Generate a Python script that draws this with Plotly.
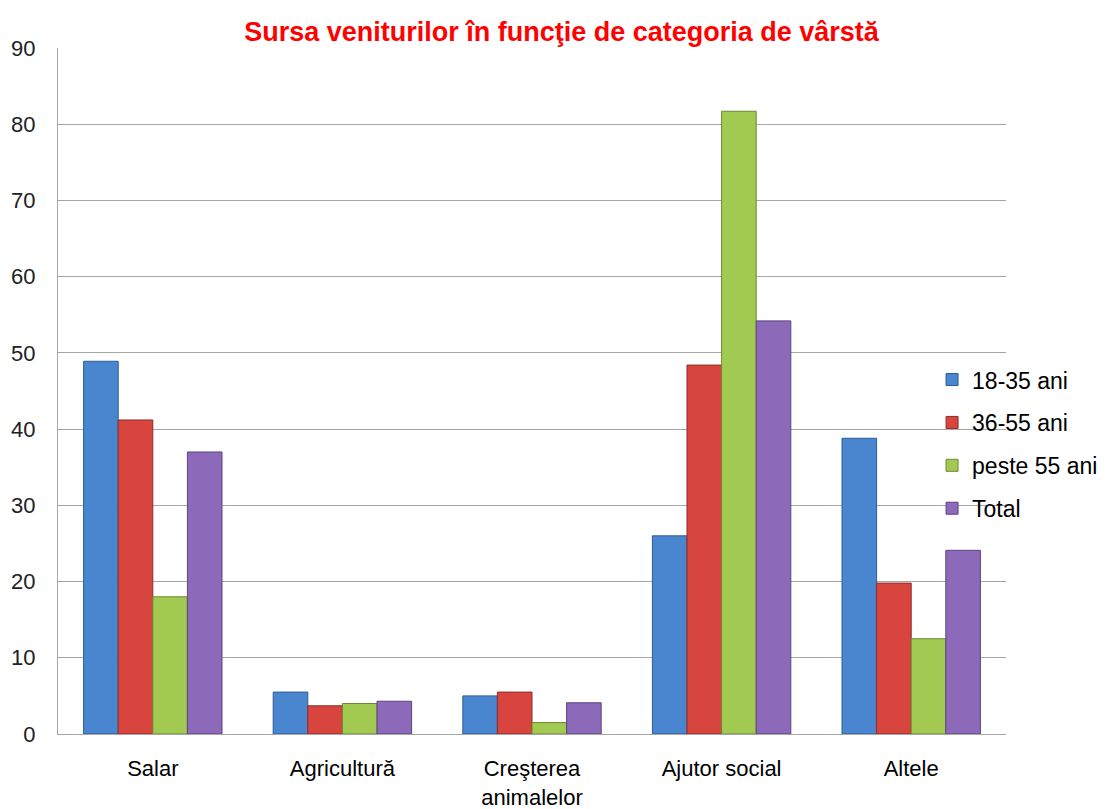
import plotly.graph_objects as go

categories = ["Salar", "Agricultură", "Creşterea<br>animalelor", "Ajutor social", "Altele"]
series_names = ["18-35 ani", "36-55 ani", "peste 55 ani", "Total"]
v_18_35 = [48.9, 5.5, 5.0, 26.0, 38.8]
v_36_55 = [41.2, 3.7, 5.5, 48.4, 19.8]
v_peste55 = [18.0, 4.0, 1.5, 81.7, 12.5]
v_total = [37.0, 4.3, 4.1, 54.2, 24.1]
colors = ["#4A86D0", "#D8453F", "#A2C951", "#8C69B9"]
edges = ["#2E5C91", "#8E2C28", "#6A8A33", "#5C4580"]

fig = go.Figure()
for name, vals, c, e in zip(series_names, [v_18_35, v_36_55, v_peste55, v_total], colors, edges):
    fig.add_trace(go.Bar(
        x=categories, y=vals, name=name, legendgroup=name,
        marker=dict(color=c, line=dict(color=e, width=1)),
    ))

fig.update_layout(
    width=1107, height=801,
    paper_bgcolor="white", plot_bgcolor="white",
    margin=dict(l=50, r=107, t=40, b=75),
    barmode="group", bargap=0.27, bargroupgap=0,
    title=dict(text="<b>Sursa veniturilor în funcţie de categoria de vârstă</b>",
               x=0.5, xanchor="center", y=0.971, yanchor="middle",
               font=dict(family="Arial, sans-serif", size=27, color="#FF0000")),
    font=dict(family="Arial, Liberation Sans, sans-serif", color="#000000"),
    legend=dict(x=0.922, y=0.548, xanchor="left", yanchor="top",
                font=dict(size=23, color="#000000"), bgcolor="rgba(0,0,0,0)",
                tracegroupgap=10, itemwidth=30),
    showlegend=True,
)
fig.update_yaxes(range=[0, 90], dtick=10, showgrid=True, gridcolor="#A6A6A6", gridwidth=1,
                 showline=True, linecolor="#A6A6A6", linewidth=1, zeroline=False,
                 ticks="", ticklabelstandoff=17, automargin=False,
                 tickfont=dict(family="Arial, sans-serif", size=22, color="#222222"))
fig.update_xaxes(showline=True, linecolor="#A6A6A6", linewidth=1, ticks="",
                 ticklabelstandoff=15, automargin=False,
                 tickfont=dict(family="Arial, sans-serif", size=22, color="#000000"))

fig.write_html("out.html")
